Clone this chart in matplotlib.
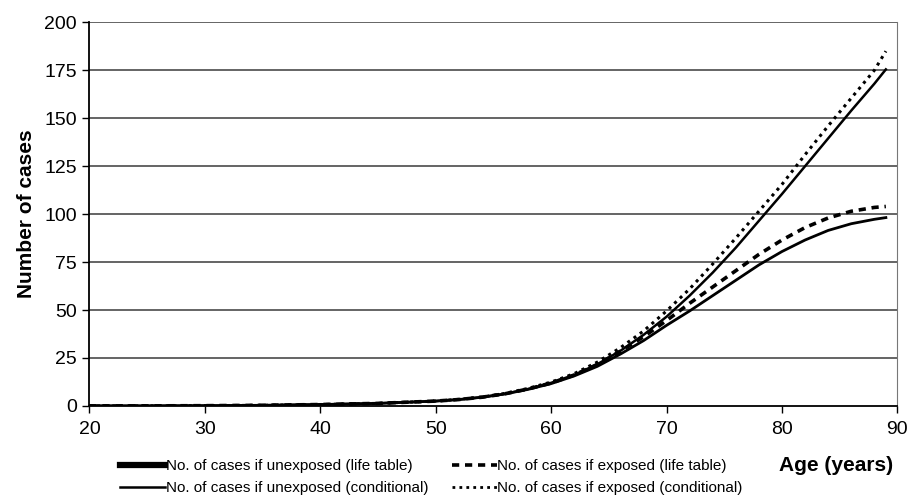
import matplotlib.pyplot as plt
from matplotlib.lines import Line2D

plt.rcParams['font.family'] = ['Liberation Sans', 'DejaVu Sans']

# ages and case counts
ages_a = [20, 25, 30, 35, 40, 45, 50, 52, 54, 56, 58, 60, 62, 64, 66, 68, 70, 72, 74, 76, 78, 80, 82, 84, 86, 88, 89]
unexposed_life = [0, 0, 0.1, 0.3, 0.7, 1.3, 2.5, 3.3, 4.5, 6.2, 8.6, 11.6, 15.6, 20.6, 27, 34, 42, 49.5, 57.5, 65.5, 73.5, 80.5, 86.5, 91.5, 95, 97.3, 98.2]
exposed_life = [0, 0, 0.1, 0.3, 0.7, 1.3, 2.5, 3.3, 4.5, 6.3, 8.8, 11.9, 16.1, 21.6, 28.5, 36, 44.5, 53.5, 62, 70.5, 79, 86.5, 93, 98, 101.5, 103.5, 104]
unexposed_cond = [0, 0, 0.1, 0.3, 0.7, 1.3, 2.5, 3.3, 4.5, 6.3, 8.8, 12, 16.2, 21.7, 28.7, 37, 46.5, 57.5, 69.5, 82.5, 96.5, 110.5, 125, 139.5, 154, 168, 175.5]
exposed_cond = [0, 0, 0.1, 0.3, 0.7, 1.3, 2.5, 3.4, 4.6, 6.5, 9.1, 12.4, 16.8, 22.8, 30.3, 39, 49.5, 61, 74, 87.5, 101.5, 115.5, 131, 146, 160.5, 175, 185]

series_labels = [
    'No. of cases if unexposed (life table)',
    'No. of cases if exposed (life table)',
    'No. of cases if unexposed (conditional)',
    'No. of cases if exposed (conditional)',
]

fig = plt.figure(figsize=(9.12, 4.98), dpi=100)
ax = fig.add_axes([0.098, 0.185, 0.886, 0.77])

for y in range(25, 201, 25):
    ax.axhline(y, color='#3a3a3a', lw=1.1, zorder=1)

dash = (0, (2.0, 1.6))
dot = (0, (1.0, 1.5))
ax.plot(ages_a, unexposed_life, color='black', lw=2.0, zorder=3)
ax.plot(ages_a, exposed_life, color='black', lw=2.6, linestyle=dash, zorder=3)
ax.plot(ages_a, unexposed_cond, color='black', lw=1.8, zorder=3)
ax.plot(ages_a, exposed_cond, color='black', lw=2.2, linestyle=dot, zorder=3)

ax.set_xlim(20, 90)
ax.set_ylim(0, 200)
ax.set_xticks(range(20, 91, 10))
ax.set_yticks(range(0, 201, 25))
ax.tick_params(labelsize=14, length=5, width=1, direction='out', colors='black')
ax.tick_params(axis='x', pad=6)
ax.tick_params(axis='y', pad=4)

ax.spines['top'].set_visible(False)
ax.spines['right'].set_color('#777777')
ax.spines['left'].set_linewidth(1.3)
ax.spines['bottom'].set_linewidth(1.3)

ax.set_ylabel('Number of cases', fontsize=15, fontweight='bold', labelpad=6)
fig.text(0.917, 0.066, 'Age (years)', fontsize=15, fontweight='bold', ha='center', va='center')

handles = [
    Line2D([], [], color='black', lw=4.5),
    Line2D([], [], color='black', lw=1.8),
    Line2D([], [], color='black', lw=2.6, linestyle=dash),
    Line2D([], [], color='black', lw=2.0, linestyle=dot),
]
labels = [series_labels[0], series_labels[2], series_labels[1], series_labels[3]]
fig.legend(handles, labels, ncol=2, loc='center left', bbox_to_anchor=(0.132, 0.042),
           frameon=False, fontsize=11, handlelength=2.95, handletextpad=0.05,
           columnspacing=1.5, labelspacing=0.55, borderpad=0, borderaxespad=0)

fig.savefig('out.png', dpi=100)
